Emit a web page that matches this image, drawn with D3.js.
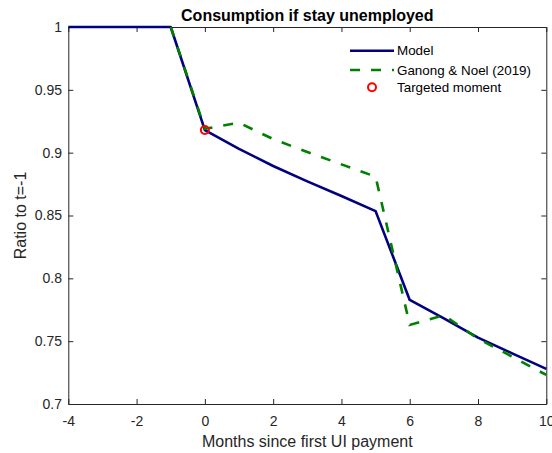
<!DOCTYPE html>
<html>
<head>
<meta charset="utf-8">
<script src="https://cdn.jsdelivr.net/npm/d3@7"></script>
<style>
  html, body { margin: 0; padding: 0; background: #fff; }
  svg { display: block; font-family: "Liberation Sans", Arial, Helvetica, sans-serif; }
</style>
</head>
<body>
<svg id="chart" width="552" height="453"></svg>
<script>
// Months relative to first UI payment
const modelMonths = [-4, -3, -2, -1, 0, 1, 2, 3, 4, 5, 6, 7, 8, 9, 10];
// Model consumption ratio to t=-1
const modelValues = [1, 1, 1, 1, 0.918, 0.903, 0.8894, 0.8772, 0.8655, 0.8535,
                     0.7828, 0.7682, 0.7528, 0.7403, 0.7279];
// Ganong & Noel (2019) empirical series
const dataMonths = [-1, 0, 1, 2, 3, 4, 5, 6, 7, 8, 9, 10];
const dataValues = [1, 0.919, 0.9238, 0.9108, 0.9005, 0.8907, 0.8809,
                    0.7629, 0.7706, 0.752, 0.7377, 0.7231];
// Moment used in estimation
const targetMonth = [0];
const targetValue = [0.918];

const xTicks = [-4, -2, 0, 2, 4, 6, 8, 10];
const yTicks = [0.7, 0.75, 0.8, 0.85, 0.9, 0.95, 1];
const legendLabels = ["Model", "Ganong & Noel (2019)", "Targeted moment"];

(function () {
const svg = d3.select("#chart");
const axisColor = "#262626";
const plotLeft = 68.3, plotRight = 546.3, plotTop = 27, plotBottom = 404;

const x = d3.scaleLinear().domain([-4, 10]).range([plotLeft, plotRight]);
const y = d3.scaleLinear().domain([0.7, 1]).range([plotBottom, plotTop]);

// Plain hyphen-minus and trimmed decimals, as MATLAB prints them
const fmtX = d => String(d);
const fmtY = d => String(+d.toFixed(2));

// Axes with inward ticks on all four sides
const tickLen = 5;
const gx = svg.append("g").attr("transform", `translate(0,${plotBottom})`)
  .call(d3.axisBottom(x).tickValues(xTicks).tickSizeInner(-tickLen).tickSizeOuter(0)
    .tickPadding(12.5).tickFormat(fmtX));
const gxTop = svg.append("g").attr("transform", `translate(0,${plotTop})`)
  .call(d3.axisTop(x).tickValues(xTicks).tickSizeInner(-tickLen).tickSizeOuter(0).tickFormat(""));
const gy = svg.append("g").attr("transform", `translate(${plotLeft},0)`)
  .call(d3.axisLeft(y).tickValues(yTicks).tickSizeInner(-tickLen).tickSizeOuter(0)
    .tickPadding(6.3).tickFormat(fmtY));
const gyRight = svg.append("g").attr("transform", `translate(${plotRight},0)`)
  .call(d3.axisRight(y).tickValues(yTicks).tickSizeInner(-tickLen).tickSizeOuter(0).tickFormat(""));

[gx, gxTop, gy, gyRight].forEach(g => {
  g.select(".domain").attr("stroke", axisColor).attr("stroke-width", 1);
  g.selectAll(".tick line").attr("stroke", axisColor).attr("stroke-width", 1);
  g.selectAll(".tick text").attr("fill", axisColor)
    .style("font-size", "14px").style("font-family", "Liberation Sans, Arial, sans-serif");
});

// Data lines
const line = d3.line().x(d => x(d[0])).y(d => y(d[1]));
const modelPts = modelMonths.map((m, i) => [m, modelValues[i]]);
const dataPts = dataMonths.map((m, i) => [m, dataValues[i]]);

svg.append("path").datum(modelPts).attr("d", line)
  .attr("fill", "none").attr("stroke", "#000080").attr("stroke-width", 2.6)
  .attr("stroke-linejoin", "round");
svg.append("path").datum(dataPts).attr("d", line)
  .attr("fill", "none").attr("stroke", "#008000").attr("stroke-width", 2.6)
  .attr("stroke-dasharray", "10,11");

svg.selectAll("circle.target").data(targetMonth.map((m, i) => [m, targetValue[i]]))
  .enter().append("circle").attr("class", "target")
  .attr("cx", d => x(d[0])).attr("cy", d => y(d[1])).attr("r", 4)
  .attr("fill", "none").attr("stroke", "#ff0000").attr("stroke-width", 2);

// Title and axis labels
svg.append("text").attr("x", (plotLeft + plotRight) / 2).attr("y", 21)
  .attr("text-anchor", "middle").style("font-size", "16px").style("font-weight", "bold")
  .attr("fill", "#000").text("Consumption if stay unemployed");
svg.append("text").attr("x", (plotLeft + plotRight) / 2).attr("y", 446.5)
  .attr("text-anchor", "middle").style("font-size", "16px")
  .attr("fill", axisColor).text("Months since first UI payment");
svg.append("text").attr("transform", `translate(26,${(plotTop + plotBottom) / 2}) rotate(-90)`)
  .attr("text-anchor", "middle").style("font-size", "16px")
  .attr("fill", axisColor).text("Ratio to t=-1");

// Legend
const lg = svg.append("g");
const rowsY = [50.7, 70, 87.3];
const lx0 = 350, lx1 = 394, tx = 397;
lg.append("line").attr("x1", lx0).attr("x2", lx1).attr("y1", rowsY[0]).attr("y2", rowsY[0])
  .attr("stroke", "#000080").attr("stroke-width", 2.6);
lg.append("line").attr("x1", lx0).attr("x2", lx1).attr("y1", rowsY[1]).attr("y2", rowsY[1])
  .attr("stroke", "#008000").attr("stroke-width", 2.6).attr("stroke-dasharray", "10,11");
lg.append("circle").attr("cx", (lx0 + lx1) / 2).attr("cy", rowsY[2]).attr("r", 4)
  .attr("fill", "none").attr("stroke", "#ff0000").attr("stroke-width", 2);
lg.selectAll("text.leg").data(legendLabels).enter().append("text").attr("class", "leg")
  .attr("x", tx).attr("y", (d, i) => rowsY[i]).attr("dy", "0.35em")
  .style("font-size", "13.4px").attr("fill", "#000").text(d => d);
})();
</script>
</body>
</html>
